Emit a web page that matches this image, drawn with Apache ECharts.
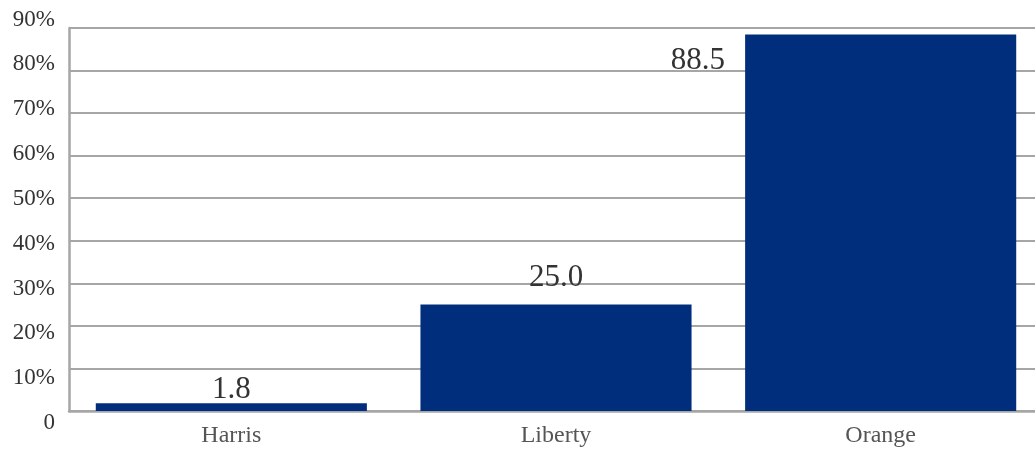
<!DOCTYPE html>
<html>
<head>
<meta charset="utf-8">
<script src="https://cdn.jsdelivr.net/npm/echarts@6/dist/echarts.min.js"></script>
<style>
html,body{margin:0;padding:0;background:#fff;}
#chart{width:1035px;height:449px;}
</style>
</head>
<body>
<div id="chart"></div>
<script>
var categories = ['Harris', 'Liberty', 'Orange'];
var values = [1.8, 25.0, 88.5];
var yTicks = [0, 10, 20, 30, 40, 50, 60, 70, 80, 90];

var FONT = '"Liberation Serif", "Times New Roman", serif';
var BAR = '#002e7c';
var GRIDC = '#a6a6a6';

var labelCfg = [
  { position: 'top', distance: -2 },
  { position: 'top', distance: 11 },
  { position: [-20, 11], align: 'right', verticalAlign: 'top' }
];

var seriesData = values.map(function (v, i) {
  return { value: v, label: labelCfg[i] };
});

var chart = echarts.init(document.getElementById('chart'), null, { renderer: 'canvas' });
chart.setOption({
  animation: false,
  backgroundColor: '#ffffff',
  grid: [
    { left: 69, right: -8, top: 28, bottom: 38, outerBoundsMode: 'none', containLabel: false },
    { left: 69, right: -8, top: 19.5, bottom: 26, outerBoundsMode: 'none', containLabel: false }
  ],
  xAxis: [
    {
      type: 'category', gridIndex: 0, data: categories,
      axisLine: { show: true, lineStyle: { color: GRIDC, width: 2.5 } },
      axisTick: { show: false },
      axisLabel: { color: '#555', fontFamily: FONT, fontSize: 24, margin: 13 }
    },
    { type: 'category', gridIndex: 1, data: categories, show: false }
  ],
  yAxis: [
    {
      type: 'value', gridIndex: 0, min: yTicks[0], max: yTicks[yTicks.length - 1], interval: 10,
      axisLine: { show: true, lineStyle: { color: GRIDC, width: 2.5 } },
      axisTick: { show: false },
      axisLabel: { show: false },
      splitLine: { show: true, lineStyle: { color: GRIDC, width: 2 } }
    },
    {
      type: 'value', gridIndex: 1, min: yTicks[0], max: yTicks[yTicks.length - 1], interval: 10,
      axisLine: { show: false }, axisTick: { show: false },
      splitLine: { show: false },
      axisLabel: {
        color: '#333', fontFamily: FONT, fontSize: 23, margin: 14,
        formatter: function (v) { return v === 0 ? '0' : v + '%'; }
      }
    }
  ],
  series: [{
    type: 'bar', xAxisIndex: 0, yAxisIndex: 0,
    data: seriesData,
    barWidth: '83.5%',
    itemStyle: { color: BAR },
    label: {
      show: true, color: '#333', fontFamily: FONT, fontSize: 31,
      formatter: function (p) { return p.value.toFixed(1); }
    }
  }]
});
</script>
</body>
</html>
